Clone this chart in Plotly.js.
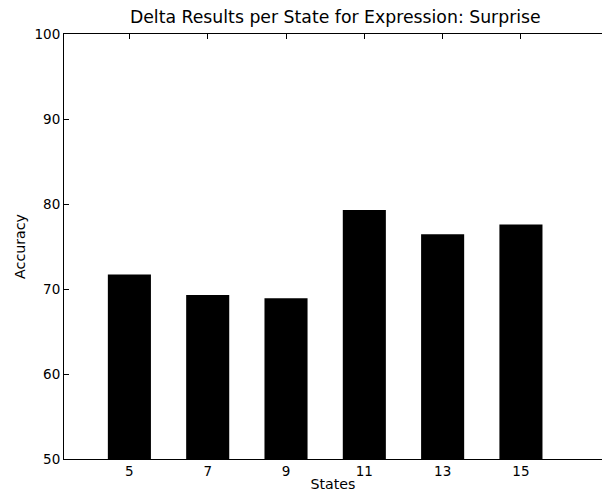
<!DOCTYPE html>
<html>
<head>
<meta charset="utf-8">
<script src="https://cdn.plot.ly/plotly-3.0.1.min.js"></script>
<style>html,body{margin:0;padding:0;background:#fff;}#chart{width:602px;height:495px;}</style>
</head>
<body>
<div id="chart"></div>
<script>
const states = [5, 7, 9, 11, 13, 15];
const accuracy = [71.7, 69.3, 68.9, 79.3, 76.45, 77.6];
const tickLabels = ['5', '7', '9', '11', '13', '15'];
const yTicks = [50, 60, 70, 80, 90, 100];

const font = {family: 'DejaVu Sans', color: '#000'};
Plotly.newPlot('chart', [{
  type: 'bar',
  x: states,
  y: accuracy,
  width: 1.1,
  marker: {color: '#000', line: {color: '#000', width: 0}},
  hoverinfo: 'skip'
}], {
  width: 602, height: 495,
  margin: {l: 64, r: 0, t: 34, b: 36, pad: 0},
  paper_bgcolor: '#fff', plot_bgcolor: '#fff',
  showlegend: false,
  font: Object.assign({size: 13.5}, font),
  title: {text: 'Delta Results per State for Expression: Surprise', font: Object.assign({size: 17.3}, font), x: 0.557, xanchor: 'center', y: 0.965, yanchor: 'middle'},
  xaxis: {
    range: [3.33, 17.07],
    tickmode: 'array', tickvals: states, ticktext: tickLabels,
    ticks: 'inside', ticklen: 5, tickcolor: '#000', tickwidth: 1,
    showline: true, linecolor: '#000', linewidth: 1, mirror: 'ticks',
    showgrid: false, zeroline: false,
    tickfont: Object.assign({size: 13.5}, font),
    title: {text: 'States', font: Object.assign({size: 14.2}, font), standoff: 0}
  },
  yaxis: {
    range: [50, 100],
    tickmode: 'array', tickvals: yTicks, ticktext: yTicks.map(String),
    ticks: 'inside', ticklen: 5, tickcolor: '#000', tickwidth: 1,
    showline: true, linecolor: '#000', linewidth: 1, mirror: false,
    showgrid: false, zeroline: false,
    tickfont: Object.assign({size: 13.5}, font),
    title: {text: 'Accuracy', font: Object.assign({size: 14.2}, font), standoff: 5}
  }
}, {displayModeBar: false, staticPlot: true});
</script>
</body>
</html>
